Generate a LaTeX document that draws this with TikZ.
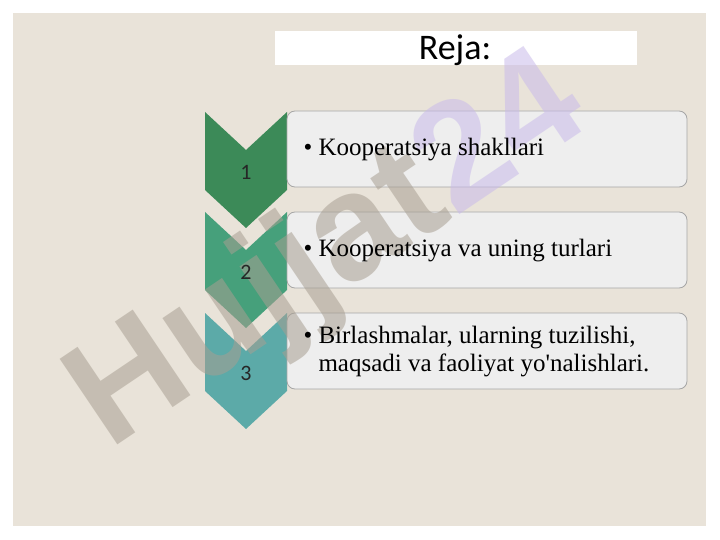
\documentclass[tikz,border=0pt]{standalone}
\usepackage{fontspec}
\setmainfont{Liberation Serif}
\newfontfamily\headfont{Carlito}
\newfontfamily\markfont{Liberation Sans}
\definecolor{panel}{HTML}{E9E3D9}
\definecolor{stepA}{HTML}{3C8A58}
\definecolor{stepB}{HTML}{46A07B}
\definecolor{stepC}{HTML}{5CAAA8}
\definecolor{itembg}{HTML}{EEEEEE}
\definecolor{markgray}{HTML}{A89F92}
\definecolor{marklav}{HTML}{C9BAEA}
\tikzset{
  itembox/.style={draw=gray!70, line width=0.8pt, fill=itembg, rounded corners=8pt},
  numlabel/.style={font=\headfont\fontsize{22}{22}\selectfont, text=black!85},
  itemtext/.style={anchor=west, align=left, font=\fontsize{25}{28}\selectfont}
}
\begin{document}
\begin{tikzpicture}[x=1pt,y=-1pt]
    \useasboundingbox (0,0) rectangle (720,540);
    \fill[white] (0,0) rectangle (720,540);
    \fill[panel] (13,13) rectangle (706,526);
    \fill[white] (275,31) rectangle (637,65);
    \node[font=\headfont\fontsize{36}{36}\selectfont] (title) at (455,50) {Reja:};
    % chevrons
    \foreach \c/\t/\n in {stepA/112/1, stepB/212/2, stepC/313/3}{
        \fill[\c] (205,\t) -- (246,\t+38) -- (287,\t) -- (287,\t+78)
            -- (246,\t+116) -- (205,\t+78) -- cycle;
    }
    % boxes
    \draw[itembox] (287,111) rectangle (687,187);
    \draw[itembox] (287,212) rectangle (687,288);
    \draw[itembox] (287,313) rectangle (687,389);
    % watermark
    \node[rotate=34, opacity=0.55, font=\markfont\bfseries\fontsize{150}{150}\selectfont]
        (mark) at (330,255) {\textcolor{markgray}{Hujjat}\textcolor{marklav}{24}};
    \node[numlabel] (num1) at (246,172) {1};
    \node[numlabel] (num2) at (246,272) {2};
    \node[numlabel] (num3) at (246,373) {3};
    \node[itemtext] (item1) at (300,150) {\textbullet\ Kooperatsiya shakllari};
    \node[itemtext] (item2) at (300,251) {\textbullet\ Kooperatsiya va uning turlari};
    \node[itemtext] (item3) at (300,352) {\textbullet\ Birlashmalar, ularning tuzilishi,\\
        \phantom{\textbullet\ }maqsadi va faoliyat yo\textquotesingle nalishlari.};
\end{tikzpicture}
\end{document}
